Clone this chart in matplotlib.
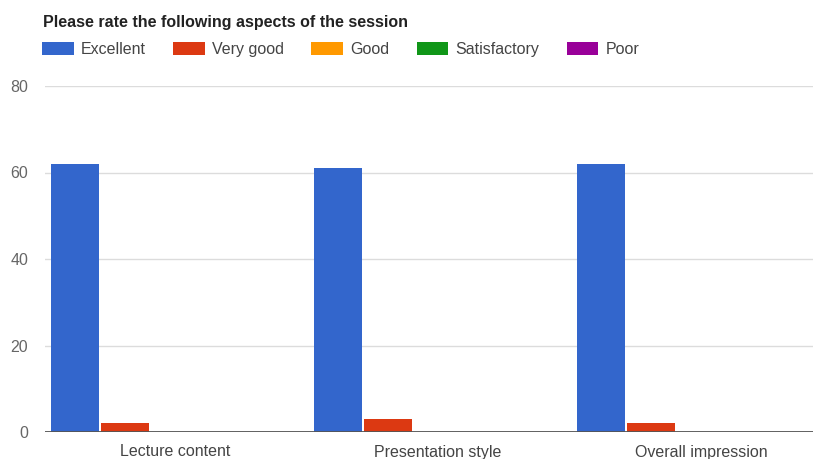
import numpy as np
import matplotlib
matplotlib.use('Agg')
import matplotlib.pyplot as plt

plt.rcParams['font.family'] = ['Liberation Sans', 'DejaVu Sans']

# survey data
aspects = ['Lecture content', 'Presentation style', 'Overall impression']
ratings = ['Excellent', 'Very good', 'Good', 'Satisfactory', 'Poor']
excellent = [62, 61, 62]
very_good = [2, 3, 2]
good = [0, 0, 0]
satisfactory = [0, 0, 0]
poor = [0, 0, 0]
colours = ['#3366cc', '#dc3912', '#ff9900', '#109618', '#990099']

series = [excellent, very_good, good, satisfactory, poor]

fig = plt.figure(figsize=(8.13, 4.59), dpi=100)
ax = fig.add_axes([45/813, 1-432/459, 1-45/813, (432-86)/459])

x = np.arange(len(aspects))
step = 0.19
w = 0.1825
for i, vals in enumerate(series):
    ax.bar(x + (i-2)*step, vals, width=w, color=colours[i], label=ratings[i],
           linewidth=0, zorder=3)

ax.set_ylim(0, 80)
ax.set_xlim(-0.494, 2.426)
ax.set_yticks([0, 20, 40, 60, 80])
ax.set_xticks(x)
ax.set_xticklabels(aspects, fontsize=11.5, color='#444444')
ax.tick_params(axis='y', length=0, labelsize=11.5, labelcolor='#666666', pad=12)
ax.tick_params(axis='x', length=0, pad=9)
ax.grid(axis='y', color='#dcdcdc', linewidth=1, zorder=0)
for s in ax.spines.values():
    s.set_visible(False)
ax.axhline(0, color='#555555', linewidth=1.3, zorder=4)

fig.text(43/813, 1-22/459, 'Please rate the following aspects of the session',
         fontsize=11.5, fontweight='bold', color='#222222', va='center')
ax.legend(loc='upper left', bbox_to_anchor=(42/813, 1-42/459),
          bbox_transform=fig.transFigure, ncol=5, frameon=False,
          fontsize=11.5, handlelength=2.0, handleheight=0.875,
          handletextpad=0.44, columnspacing=1.7, labelcolor='#444444',
          borderaxespad=0, borderpad=0)

fig.savefig('out.png', dpi=100)
